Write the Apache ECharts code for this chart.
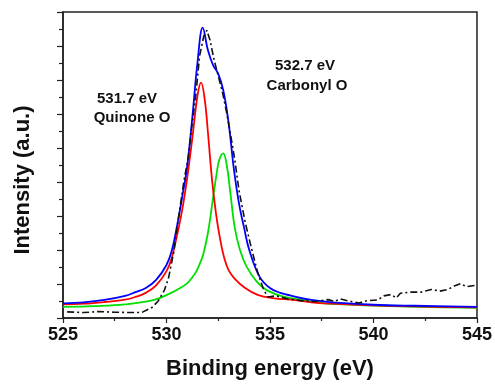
<!DOCTYPE html>
<html>
<head>
<meta charset="utf-8">
<script src="https://cdn.jsdelivr.net/npm/echarts@6/dist/echarts.min.js"></script>
<style>html,body{margin:0;padding:0;background:#fff;}#c{width:495px;height:387px;}</style>
</head>
<body>
<div id="c"></div>
<script>
// Experimental spectrum (dash-dot)
var expEnergy = [525.2,526,526.7,527.5,528.4,528.8,529.3,529.6,529.9,530.1,530.35,530.6,530.85,531.05,531.2,531.4,531.6,531.8,531.95,532.1,532.3,532.5,532.7,532.9,533.1,533.3,533.5,533.8,534.1,534.4,534.7,534.9,535.3,535.8,536.5,537.1,537.8,538.1,538.4,538.8,539.3,539.7,540.2,540.5,540.85,541.1,541.3,541.8,542.3,542.8,543.2,543.6,543.9,544.2,544.5,545];
var expIntensity = [0.18,0.16,0.19,0.17,0.16,0.16,0.31,0.50,0.82,1.18,1.94,3.03,4.06,4.71,5.53,6.47,7.71,8.29,8.46,8.18,7.59,7.12,6.65,6.06,5.38,4.65,3.76,2.82,2.06,1.35,0.82,0.62,0.65,0.57,0.51,0.48,0.54,0.49,0.56,0.50,0.44,0.51,0.53,0.65,0.69,0.59,0.73,0.76,0.76,0.84,0.79,0.84,0.94,1.01,0.92,0.97];

// Envelope fit (blue)
var fitEnergy = [525,526,527,528,528.5,529,529.5,530,530.25,530.5,530.75,531,531.25,531.5,531.75,532,532.25,532.5,532.75,533,533.25,533.5,533.75,534,534.5,535,535.5,536,537,538,540,542,545];
var fitIntensity = [0.43,0.46,0.53,0.65,0.76,0.88,1.12,1.56,1.97,2.68,3.53,4.47,5.91,7.53,8.54,7.88,7.44,7.18,6.68,5.74,4.41,3.38,2.65,2.00,1.21,0.88,0.74,0.66,0.53,0.46,0.39,0.36,0.33];

// Quinone O component (red), 531.7 eV
var quinoneEnergy = [525,526,527,528,528.5,529,529.5,530,530.25,530.5,530.75,531,531.25,531.5,531.67,531.85,532,532.2,532.4,532.6,532.8,533,533.3,533.8,534.4,535.2,536,537,538,540,542,545];
var quinoneIntensity = [0.40,0.42,0.47,0.54,0.62,0.74,0.96,1.38,1.76,2.41,3.15,4.12,5.30,6.55,6.92,6.41,5.47,4.06,3.03,2.29,1.74,1.41,1.15,0.88,0.68,0.58,0.54,0.46,0.42,0.37,0.34,0.31];

// Carbonyl O component (green), 532.7 eV
var carbonylEnergy = [525,526.5,528,529.4,530.2,530.6,531,531.25,531.45,531.6,531.77,532,532.25,532.42,532.55,532.74,532.91,533.07,533.3,533.55,533.87,534.36,534.84,535.64,536.76,537.6,540.8,545];
var carbonylIntensity = [0.33,0.35,0.40,0.53,0.73,0.86,1.02,1.20,1.38,1.58,1.86,2.50,3.53,4.24,4.65,4.84,4.50,3.76,2.65,2.00,1.51,1.07,0.82,0.63,0.51,0.43,0.35,0.30];

var xTicks = [525,530,535,540,545];
var xAxisTitle = 'Binding energy (eV)';
var yAxisTitle = 'Intensity (a.u.)';
var labels = [
  {text:'531.7 eV', x:127, y:99},
  {text:'Quinone O', x:132, y:118},
  {text:'532.7 eV', x:305, y:66},
  {text:'Carbonyl O', x:307, y:86}
];

function pairs(xs, ys){ return xs.map(function(x,i){ return [x, ys[i]]; }); }

var chart = echarts.init(document.getElementById('c'), null, {renderer:'canvas'});
var axisCol = '#222';
chart.setOption({
  animation:false,
  backgroundColor:'#fff',
  grid:{left:63,right:18,top:12,bottom:69,show:true,borderColor:axisCol,borderWidth:1.5,backgroundColor:'transparent'},
  xAxis:{
    type:'value',min:xTicks[0],max:xTicks[xTicks.length-1],interval:5,
    name:xAxisTitle,nameLocation:'middle',nameGap:40,
    nameTextStyle:{fontFamily:'Liberation Sans, Arial',fontWeight:'bold',fontSize:22,color:'#111'},
    axisLine:{show:true,onZero:false,lineStyle:{color:axisCol,width:1.5}},
    axisTick:{show:true,inside:false,length:5,lineStyle:{color:axisCol,width:1.2}},
    minorTick:{show:true,splitNumber:2,length:3,lineStyle:{color:axisCol,width:1.2}},
    axisLabel:{margin:8,fontFamily:'Liberation Sans, Arial',fontWeight:'bold',fontSize:18,color:'#111'},
    splitLine:{show:false},minorSplitLine:{show:false}
  },
  yAxis:{
    type:'value',min:0,max:9,interval:1,
    name:yAxisTitle,nameLocation:'middle',nameGap:29,nameRotate:90,
    nameTextStyle:{fontFamily:'Liberation Sans, Arial',fontWeight:'bold',fontSize:22,color:'#111',padding:[0,30,0,0]},
    axisLine:{show:true,onZero:false,lineStyle:{color:axisCol,width:1.5}},
    axisTick:{show:true,inside:false,length:6,lineStyle:{color:axisCol,width:1.2}},
    minorTick:{show:true,splitNumber:2,length:4,lineStyle:{color:axisCol,width:1.2}},
    axisLabel:{show:false},
    splitLine:{show:false},minorSplitLine:{show:false}
  },
  series:[
    {name:'Experimental',type:'line',data:pairs(expEnergy,expIntensity),showSymbol:false,smooth:false,
     lineStyle:{color:'#111',width:1.6,type:[7,3,2,3]},z:5},
    {name:'Carbonyl O',type:'line',data:pairs(carbonylEnergy,carbonylIntensity),showSymbol:false,smooth:0.4,
     lineStyle:{color:'#00e000',width:1.8},z:3},
    {name:'Quinone O',type:'line',data:pairs(quinoneEnergy,quinoneIntensity),showSymbol:false,smooth:0.4,
     lineStyle:{color:'#ff0000',width:1.8},z:3},
    {name:'Fit',type:'line',data:pairs(fitEnergy,fitIntensity),showSymbol:false,smooth:0.4,
     lineStyle:{color:'#0000ff',width:1.8},z:4}
  ],
  graphic: labels.map(function(l){
    return {type:'text',x:l.x,y:l.y,style:{text:l.text,fill:'#111',font:'bold 15px "Liberation Sans", Arial',align:'center',verticalAlign:'middle'}};
  })
});
</script>
</body>
</html>
